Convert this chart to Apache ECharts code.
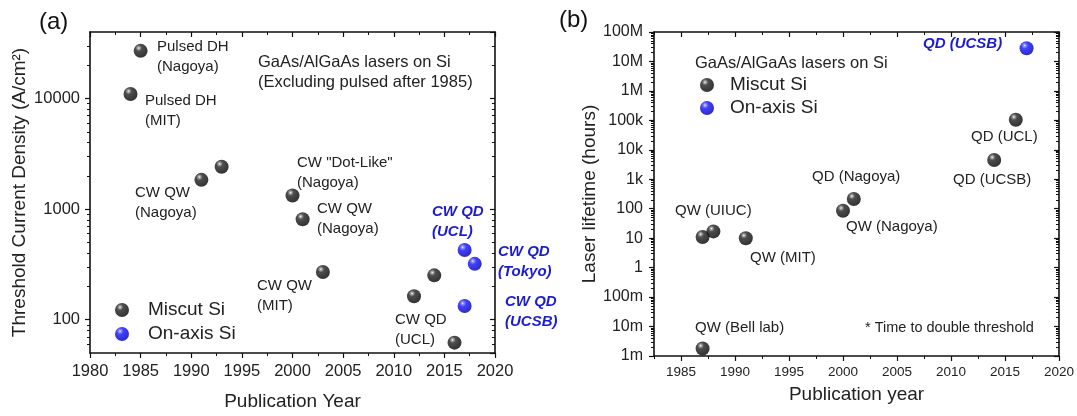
<!DOCTYPE html>
<html><head><meta charset="utf-8">
<script src="https://cdn.jsdelivr.net/npm/echarts@6/dist/echarts.min.js"></script>
<style>html,body{margin:0;padding:0;background:#fff}#c{width:1077px;height:416px}</style>
</head><body><div id="c"></div>
<script>
// ---------- data ----------
// Panel (a): threshold current density (A/cm^2) vs publication year
const leftMiscutYears = [1984, 1985, 1991, 1993, 2000, 2001, 2003, 2012, 2014, 2016];
const leftMiscutJth   = [11000, 27000, 1840, 2420, 1330, 810, 270, 163, 252, 62];
const leftOnaxisYears = [2017, 2018, 2017];
const leftOnaxisJth   = [427, 320, 133];
// Panel (b): laser lifetime (hours) vs publication year
const rightMiscutYears = [1987, 1987, 1988, 1991, 2000, 2001, 2014, 2016];
const rightMiscutLife  = [0.0018, 11, 17, 10, 85, 215, 4500, 105000];
const rightOnaxisYears = [2017];
const rightOnaxisLife  = [28000000];
// tick labels
const rightYearTicks = [1985, 1990, 1995, 2000, 2005, 2010, 2015, 2020];
const rightYearMinor = [1982.5, 1987.5, 1992.5, 1997.5, 2002.5, 2007.5, 2012.5, 2017.5];
const rightLifeTickLabels = ['1m','10m','100m','1','10','100','1k','10k','100k','1M','10M','100M'];
const legendNames = ['Miscut Si', 'On-axis Si'];

// ---------- styles ----------
const FONT = '"Liberation Sans", Arial, sans-serif';
const INK = '#222';
const BLUE = '#1c1ccf';
const LINE = { show: true, onZero: false, lineStyle: { color: '#111', width: 1.6 } };
const NOLINE = { show: false, onZero: false };

function zip(xs, ys) { return xs.map((x, i) => [x, ys[i]]); }
// minor log ticks (2..9 x decade), returned as exponents for a tick-only helper axis
function minorLogExp(lo, hi, min, max) {
  const out = [];
  for (let e = lo; e <= hi; e++) for (let m = 2; m <= 9; m++) {
    const v = m * Math.pow(10, e);
    if (v > min * 1.0001 && v < max * 0.9999) out.push(Math.log10(v));
  }
  return out;
}
const sphereBlack = { type: 'radial', x: 0.36, y: 0.3, r: 0.72, colorStops: [
  { offset: 0, color: '#ffffff' }, { offset: 0.1, color: '#9a9a9a' }, { offset: 0.32, color: '#202020' }, { offset: 1, color: '#000' }] };
const sphereBlue = { type: 'radial', x: 0.36, y: 0.3, r: 0.72, colorStops: [
  { offset: 0, color: '#ffffff' }, { offset: 0.1, color: '#8080ff' }, { offset: 0.35, color: '#1010ff' }, { offset: 0.8, color: '#0000c8' }, { offset: 1, color: '#000090' }] };

const LMIN = 50, LMAX = 40000, RMIN = 0.001, RMAX = 1e8;
const leftMinor = minorLogExp(1, 4, LMIN, LMAX);
const rightMinor = minorLogExp(-3, 7, RMIN, RMAX);

function txt(x, y, text, opt) {
  opt = opt || {};
  return { type: 'text', x: x, y: y, silent: true, z: 50, style: {
    text: text, fill: opt.fill || INK, fontFamily: FONT, fontSize: opt.size || 15,
    fontWeight: opt.weight || 'normal', fontStyle: opt.style || 'normal',
    lineHeight: opt.lh || 20, align: 'left', verticalAlign: opt.va || 'top' } };
}
const blueOpt = { fill: BLUE, weight: 'bold', style: 'italic', size: 15 };

const graphics = [
  txt(39, 22, '(a)', { size: 24, va: 'middle', fill: '#111' }),
  txt(559, 20, '(b)', { size: 24, va: 'middle', fill: '#111' }),
  // panel (a)
  txt(157, 37, 'Pulsed DH\n(Nagoya)'),
  txt(145, 91, 'Pulsed DH\n(MIT)'),
  txt(258, 52, 'GaAs/AlGaAs lasers on Si\n(Excluding pulsed after 1985)', { size: 16.5 }),
  txt(135, 183, 'CW QW\n(Nagoya)'),
  txt(297, 153, 'CW "Dot-Like"\n(Nagoya)'),
  txt(317, 199, 'CW QW\n(Nagoya)'),
  txt(257, 276, 'CW QW\n(MIT)'),
  txt(395, 310, 'CW QD\n(UCL)'),
  txt(432, 202, 'CW QD\n(UCL)', blueOpt),
  txt(498, 242, 'CW QD\n(Tokyo)', blueOpt),
  txt(505, 292, 'CW QD\n(UCSB)', blueOpt),
  // panel (b)
  txt(695, 63, 'GaAs/AlGaAs lasers on Si', { size: 16.5, va: 'middle' }),
  txt(675, 211, 'QW (UIUC)', { va: 'middle' }),
  txt(750, 258, 'QW (MIT)', { va: 'middle' }),
  txt(695, 328, 'QW (Bell lab)', { va: 'middle' }),
  txt(812, 177, 'QD (Nagoya)', { va: 'middle' }),
  txt(846, 227, 'QW (Nagoya)', { va: 'middle' }),
  txt(953, 180, 'QD (UCSB)', { va: 'middle' }),
  txt(971, 137, 'QD (UCL)', { va: 'middle' }),
  txt(923, 44, 'QD (UCSB)', Object.assign({ va: 'middle' }, blueOpt)),
  txt(865, 328, '* Time to double threshold', { va: 'middle', size: 14.5 })
];

const noLabel = { show: false };
const TICK = { color: '#111', width: 1.2 };
const MTICK = { color: '#111', width: 1 };
function minorHelperY(grid, pos, inside, lo, hi, vals) {
  return { gridIndex: grid, type: 'value', position: pos, min: lo, max: hi,
    axisLine: NOLINE, splitLine: { show: false },
    axisTick: { show: true, inside: inside, length: 3, customValues: vals, lineStyle: MTICK },
    axisLabel: { show: false, customValues: vals } };
}
const option = {
  animation: false,
  backgroundColor: '#fff',
  textStyle: { fontFamily: FONT },
  grid: [
    { left: 90, top: 32, width: 405, height: 324 },
    { left: 654, top: 32, width: 405, height: 324 }
  ],
  legend: [
    { data: legendNames, orient: 'vertical', left: 115, top: 300, padding: 0, itemWidth: 14, itemHeight: 14, itemGap: 4,
      icon: 'circle', selectedMode: false,
      textStyle: { fontFamily: FONT, fontSize: 19, color: INK, lineHeight: 20, padding: [0, 0, 0, 14] } },
    { data: legendNames, orient: 'vertical', left: 700, top: 75, padding: 0, itemWidth: 14, itemHeight: 14, itemGap: 3,
      icon: 'circle', selectedMode: false,
      textStyle: { fontFamily: FONT, fontSize: 19, color: INK, lineHeight: 20, padding: [0, 0, 0, 11] } }
  ],
  xAxis: [
    { gridIndex: 0, type: 'value', position: 'bottom', min: 1980, max: 2020, interval: 5,
      axisLine: LINE, splitLine: { show: false },
      axisTick: { show: true, length: 5, lineStyle: TICK },
      minorTick: { show: true, splitNumber: 2, length: 3, lineStyle: MTICK },
      axisLabel: { fontSize: 16.5, color: INK, margin: 10, formatter: v => String(v) },
      name: 'Publication Year', nameLocation: 'middle', nameGap: 39,
      nameTextStyle: { fontSize: 19, color: INK, fontFamily: FONT } },
    { gridIndex: 0, type: 'value', position: 'top', min: 1980, max: 2020, interval: 5,
      axisLine: LINE, splitLine: { show: false },
      axisTick: { show: true, inside: true, length: 5, lineStyle: TICK },
      minorTick: { show: true, splitNumber: 2, length: 3, lineStyle: MTICK },
      axisLabel: noLabel },
    { gridIndex: 1, type: 'value', position: 'bottom', min: 1982.5, max: 2020,
      axisLine: LINE, splitLine: { show: false },
      axisTick: { show: true, length: 5, customValues: rightYearTicks, lineStyle: TICK },
      axisLabel: { fontSize: 13.5, color: INK, margin: 9, customValues: rightYearTicks, formatter: v => String(v) },
      name: 'Publication year', nameLocation: 'middle', nameGap: 29,
      nameTextStyle: { fontSize: 19, color: INK, fontFamily: FONT } },
    { gridIndex: 1, type: 'value', position: 'bottom', min: 1982.5, max: 2020,
      axisLine: NOLINE, splitLine: { show: false },
      axisTick: { show: true, length: 3, customValues: rightYearMinor, lineStyle: MTICK },
      axisLabel: { show: false, customValues: rightYearMinor } },
    { gridIndex: 1, type: 'value', position: 'top', min: 1982.5, max: 2020,
      axisLine: LINE, splitLine: { show: false },
      axisTick: { show: true, inside: true, length: 5, customValues: rightYearTicks, lineStyle: TICK },
      axisLabel: { show: false, customValues: rightYearTicks } },
    { gridIndex: 1, type: 'value', position: 'top', min: 1982.5, max: 2020,
      axisLine: NOLINE, splitLine: { show: false },
      axisTick: { show: true, inside: true, length: 3, customValues: rightYearMinor, lineStyle: MTICK },
      axisLabel: { show: false, customValues: rightYearMinor } }
  ],
  yAxis: [
    { gridIndex: 0, type: 'log', position: 'left', min: LMIN, max: LMAX,
      axisLine: LINE, splitLine: { show: false },
      axisTick: { show: true, length: 5, lineStyle: TICK },
      axisLabel: { fontSize: 16.5, color: INK, margin: 10, showMinLabel: false, showMaxLabel: false,
        formatter: v => String(Math.round(v)) },
      name: 'Threshold Current Density (A/cm²)', nameLocation: 'middle', nameGap: 61,
      nameTextStyle: { fontSize: 19, color: INK, fontFamily: FONT } },
    minorHelperY(0, 'left', false, Math.log10(LMIN), Math.log10(LMAX), leftMinor),
    { gridIndex: 0, type: 'log', position: 'right', min: LMIN, max: LMAX,
      axisLine: LINE, splitLine: { show: false },
      axisTick: { show: true, inside: true, length: 5, lineStyle: TICK },
      axisLabel: noLabel },
    minorHelperY(0, 'right', true, Math.log10(LMIN), Math.log10(LMAX), leftMinor),
    { gridIndex: 1, type: 'log', position: 'left', min: RMIN, max: RMAX, interval: 1,
      axisLine: LINE, splitLine: { show: false },
      axisTick: { show: true, length: 5, lineStyle: TICK },
      axisLabel: { fontSize: 16, color: INK, margin: 11,
        formatter: v => rightLifeTickLabels[Math.round(Math.log10(v)) + 3] },
      name: 'Laser lifetime (hours)', nameLocation: 'middle', nameGap: 54,
      nameTextStyle: { fontSize: 19, color: INK, fontFamily: FONT } },
    minorHelperY(1, 'left', false, Math.log10(RMIN), Math.log10(RMAX), rightMinor),
    { gridIndex: 1, type: 'log', position: 'right', min: RMIN, max: RMAX, interval: 1,
      axisLine: LINE, splitLine: { show: false },
      axisTick: { show: true, inside: true, length: 5, lineStyle: TICK },
      axisLabel: noLabel },
    minorHelperY(1, 'right', true, Math.log10(RMIN), Math.log10(RMAX), rightMinor)
  ],
  series: [
    { name: 'Miscut Si', type: 'scatter', xAxisIndex: 0, yAxisIndex: 0, symbolSize: 14,
      itemStyle: { color: sphereBlack }, data: zip(leftMiscutYears, leftMiscutJth), z: 10 },
    { name: 'On-axis Si', type: 'scatter', xAxisIndex: 0, yAxisIndex: 0, symbolSize: 14,
      itemStyle: { color: sphereBlue }, data: zip(leftOnaxisYears, leftOnaxisJth), z: 10 },
    { name: 'Miscut Si', type: 'scatter', xAxisIndex: 2, yAxisIndex: 4, symbolSize: 14,
      itemStyle: { color: sphereBlack }, data: zip(rightMiscutYears, rightMiscutLife), z: 10 },
    { name: 'On-axis Si', type: 'scatter', xAxisIndex: 2, yAxisIndex: 4, symbolSize: 14,
      itemStyle: { color: sphereBlue }, data: zip(rightOnaxisYears, rightOnaxisLife), z: 10 }
  ],
  graphic: graphics
};
const chart = echarts.init(document.getElementById('c'), null, { renderer: 'canvas' });
chart.setOption(option);
</script></body></html>
